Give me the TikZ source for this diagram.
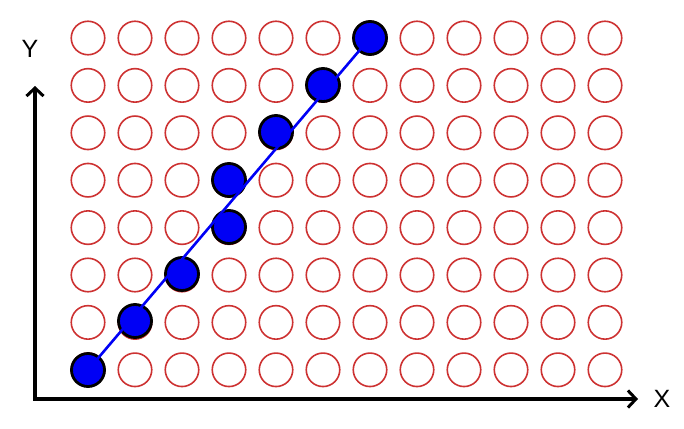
\documentclass[tikz,border=0pt]{standalone}
\usepackage{fontspec}
\setmainfont{Liberation Sans}
\usetikzlibrary{arrows.meta}
\definecolor{ringred}{RGB}{205,50,50}
\definecolor{dotblue}{RGB}{0,0,245}
\begin{document}
\begin{tikzpicture}[x=1pt,y=-1pt,
  ring/.style={circle,draw=ringred,line width=1.6pt,minimum size=33.5pt,inner sep=0pt},
  dot/.style={circle,draw=black,fill=dotblue,line width=2.8pt,minimum size=33pt,inner sep=0pt},
  axis/.style={line width=3.4pt,-{Straight Barb[length=8pt,width=17pt,line width=3pt]}},
  lbl/.style={font=\fontsize{25}{25}\selectfont,inner sep=0pt}]
\useasboundingbox (0,0) rectangle (684,428);
\foreach \c in {0,...,11}{
  \foreach \r in {0,...,7}{
    \node[ring] (r-\c-\r) at ({88+47*\c},{38+47.4*\r}) {};
  }
}
\node[dot] (b0) at (88,370) {};
\node[dot] (b1) at (135,321) {};
\node[dot] (b2) at (182,274) {};
\node[dot] (b3) at (229,227) {};
\node[dot] (b4) at (229,180) {};
\node[dot] (b5) at (276,132) {};
\node[dot] (b6) at (323,85) {};
\node[dot] (b7) at (370,38) {};
\draw[dotblue,line width=2.6pt] (b0.center) -- (b7.center);
\coordinate (o) at (35,399);
\coordinate (ytip) at (35,86);
\coordinate (xtip) at (638,399);
\draw[axis] (o) -- (ytip);
\draw[axis] ([xshift=-1.7pt]o) -- (xtip);
\node[lbl] (ylab) at (30,49) {Y};
\node[lbl] (xlab) at (662,399) {X};
\end{tikzpicture}
\end{document}
